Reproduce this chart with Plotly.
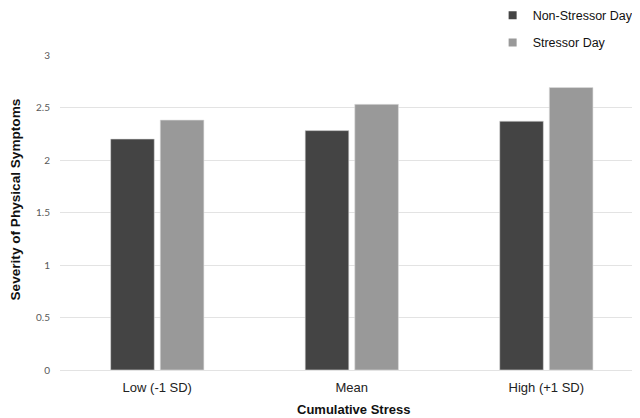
import plotly.graph_objects as go

categories = ["Low (-1 SD)", "Mean", "High (+1 SD)"]
non_stressor = [2.20, 2.28, 2.37]
stressor = [2.38, 2.53, 2.69]
series_names = ["Non-Stressor Day", "Stressor Day"]
series_colors = ["#444444", "#999999"]
y_ticks = [0, 0.5, 1, 1.5, 2, 2.5, 3]
y_tick_text = ["0", "0.5", "1", "1.5", "2", "2.5", "3"]

# page has an 8px body margin; figure sized to fit the 640x418 window
OFF = 8
W, H = 640 - OFF, 418 - OFF
L, T = 59.5 - OFF, 55.3 - OFF
bottom_fig = 370.5 - OFF
B = H - bottom_fig
plot_w = W - L
plot_h = bottom_fig - T

fig = go.Figure()
for vals, name, col in zip([non_stressor, stressor], series_names, series_colors):
    fig.add_trace(go.Bar(x=categories, y=vals, name=name, showlegend=False,
                         marker=dict(color=col, line=dict(color="#dddddd", width=0.6))))
for i, (name, col) in enumerate(zip(series_names, series_colors)):
    fig.add_trace(go.Scatter(x=[None], y=[None], mode="markers", name=name,
                             marker=dict(symbol="square", size=8, color=col),
                             legendgroup="g%d" % i, showlegend=True))

cat_px = 194.7
x_right = -0.5 + plot_w / cat_px

fig.update_layout(
    width=W, height=H,
    margin=dict(l=L, r=0, t=T, b=B, autoexpand=False),
    paper_bgcolor="white", plot_bgcolor="white",
    barmode="group", bargap=0.49, bargroupgap=0.12,
    showlegend=True,
    legend=dict(xref="paper", yref="paper",
                x=(532.5 - OFF - 40 - L) / plot_w, xanchor="left",
                y=(bottom_fig + 7) / plot_h, yanchor="top",
                font=dict(family="Liberation Sans, Arial", size=12.5, color="#111111"),
                traceorder="grouped", tracegroupgap=8, itemwidth=30,
                bgcolor="rgba(0,0,0,0)"),
    xaxis=dict(range=[-0.5, x_right], showgrid=False, zeroline=False, showline=False,
               ticks="outside", ticklen=5, tickcolor="rgba(0,0,0,0)",
               tickfont=dict(family="Liberation Sans, Arial", size=13, color="#222222")),
    yaxis=dict(range=[0, 3], tickvals=y_ticks, ticktext=y_tick_text,
               showgrid=True, gridcolor="#e3e3e3", gridwidth=1,
               zeroline=True, zerolinecolor="#e3e3e3", zerolinewidth=1, showline=False,
               ticks="outside", ticklen=7, tickcolor="rgba(0,0,0,0)",
               tickfont=dict(family="Lato, Open Sans, sans-serif", size=10, color="#595959")),
    annotations=[
        dict(text="<b>Cumulative Stress</b>", xref="paper", yref="paper",
             x=(353 - OFF - L) / plot_w, y=(bottom_fig - (410 - OFF)) / plot_h,
             xanchor="center", yanchor="middle", showarrow=False,
             font=dict(family="Liberation Sans, Arial", size=13, color="#111111")),
        dict(text="<b>Severity of Physical Symptoms</b>", xref="paper", yref="paper",
             x=(15 - OFF - L) / plot_w, y=(bottom_fig - (200.3 - OFF)) / plot_h,
             xanchor="center", yanchor="middle", textangle=-90, showarrow=False,
             font=dict(family="Liberation Sans, Arial", size=13.6, color="#111111")),
    ],
)

fig.write_html("out.html")
